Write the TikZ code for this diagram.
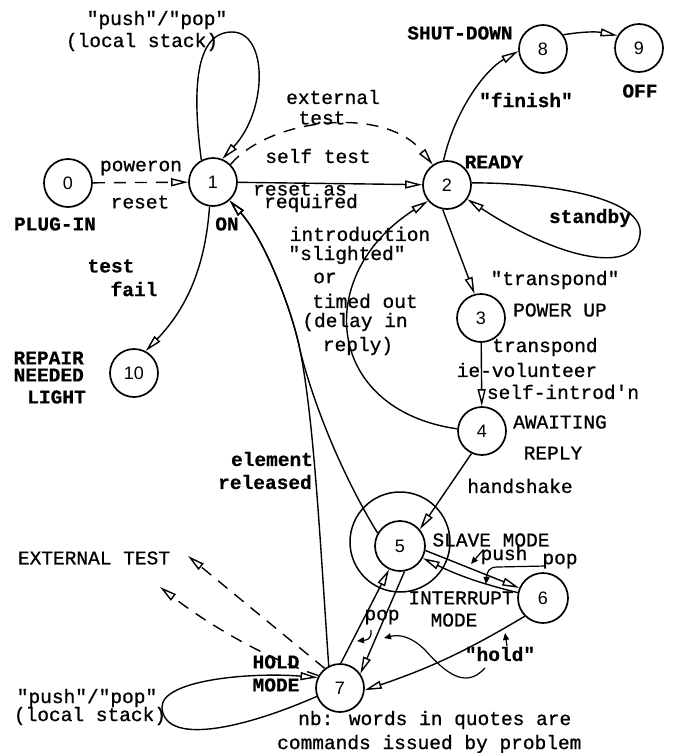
\documentclass[tikz,border=0pt]{standalone}
\usepackage{fontspec}
\setmonofont{Liberation Mono}
\newfontfamily\twfont[FakeBold=0.8]{Liberation Mono}
\newfontfamily\twbold[FakeBold=0.5]{Liberation Mono Bold}
\newfontfamily\numfont{Liberation Sans}
\usetikzlibrary{arrows.meta}
\begin{document}
\begin{tikzpicture}[x=1pt,y=-1pt,
  state/.style={circle, draw, line width=1.7pt, minimum size=48pt, inner sep=0pt, font=\numfont\fontsize{18}{18}\selectfont},
  lbl/.style={font=\twfont\fontsize{19.5}{20}\selectfont, inner sep=0pt},
  blbl/.style={font=\twbold\fontsize{19.5}{20}\selectfont, inner sep=0pt},
  conn/.style={line width=1.4pt, -{Triangle[open, length=17pt, width=8pt, line width=1.4pt]}},
  dashline/.style={dash pattern=on 12pt off 9pt},
  pointer/.style={line width=1.2pt, -{Triangle[length=7pt,width=6pt]}},
]
\useasboundingbox (0,0) rectangle (673,753);

% states
\node[state] (n0) at (68,183) {0};
\node[state] (n1) at (213,182) {1};
\node[state] (n2) at (447,185) {2};
\node[state] (n8) at (543,49) {8};
\node[state] (n9) at (639,48) {9};
\node[state] (n3) at (481,318) {3};
\node[state] (n4) at (482,431) {4};
\node[state] (n10) at (134,373) {10};
\node[circle, draw, line width=1.5pt, minimum size=100pt, inner sep=0pt] (slave) at (400,542) {};
\node[state, minimum size=50pt] (n5) at (400,546) {5};
\node[state, minimum size=50pt] (n6) at (543,598) {6};
\node[state] (n7) at (340,688) {7};
\coordinate (ext1) at (188,556);
\coordinate (ext2) at (160,587);

% connectors
\draw[conn, dashline] (n0) -- (n1);
\draw[conn] (n1.118) .. controls (192,90) and (195,32) .. (232,32) .. controls (268,32) and (268,110) .. (n1.68);
\draw[conn, dashline] (n1.45) .. controls (270,118) and (385,105) .. (n2.125);
\draw[conn] (n1) -- (n2);
\draw[conn] (n1.262) .. controls (205,270) and (185,310) .. (n10.62);
\draw[conn] (n5.150) .. controls (345,480) and (315,410) .. (300,350) .. controls (292,310) and (265,240) .. (n1.-48);
\draw[conn] (n7.117) .. controls (320,540) and (314,420) .. (300,350) .. controls (292,310) and (265,240) .. (n1.-48);
\draw[conn] (n2.98) .. controls (455,110) and (485,70) .. (n8.185);
\draw[conn] (n8.35) to[bend left=10] (n9.150);
\draw[conn] (n2.5) .. controls (560,183) and (645,200) .. (640,235) .. controls (635,275) and (560,260) .. (n2.-35);
\draw[conn] (n2.-100) -- (n3.105);
\draw[conn] (n3) -- (n4);
\draw[conn] (n4.175) .. controls (325,410) and (312,275) .. (n2.-140);
\draw[conn] (n4.-115) -- (n5.40);
\draw[conn] (n5.-10) -- (n6.157);
\draw[conn] (n6.168) to[bend left=6] (n5.-28);
\draw[conn] (n5.-80) -- (n7.35);
\draw[conn] (n7.88) -- (n5.-115);
\draw[conn] (n6.-135) to[bend left=6] (n7.-5);
\draw[conn] (n7.-160) .. controls (240,730) and (165,745) .. (162,708) .. controls (160,680) and (250,672) .. (n7.155);
\draw[conn, dashline] (n7.128) -- (ext1);
\draw[conn, dashline] (n7.150) .. controls (262,657) and (205,622) .. (ext2);

% small pointers
\draw[pointer] (483,550) -- (471,564);
\draw[pointer] (546,566) -- (497,567) .. controls (489,567) and (487,572) .. (486,584);
\draw[pointer] (371,630) .. controls (372,640) and (366,640) .. (357,641);
\draw[pointer] (507,646) -- (505,633);
\draw[pointer] (485,668) .. controls (465,690) and (445,672) .. (425,650) .. controls (412,637) and (400,634) .. (384,638);

% labels
\node[lbl] (t1) at (157,20) {"push"/"pop"};
\node[lbl] (t2) at (142,42) {(local stack)};
\node[lbl] (t3) at (141,168) {poweron};
\node[lbl] (t4) at (140,202) {reset};
\node[blbl] (t5) at (55,224) {PLUG-IN};
\node[blbl] (t6) at (111,266) {test};
\node[blbl] (t7) at (134,289) {fail};
\node[blbl, anchor=east] (t8) at (84,358) {REPAIR};
\node[blbl, anchor=east] (t9) at (84,375) {NEEDED};
\node[blbl, anchor=east] (t10) at (86,397) {LIGHT};
\node[blbl] (t11) at (227,224) {ON};
\node[lbl] (t12) at (333,97) {external};
\node[lbl] (t13) at (322,118) {test};
\node[lbl] (t14) at (318,156) {self test};
\node[lbl] (t15) at (300,189) {reset as};
\node[lbl] (t16) at (311,203) {required};
\node[lbl] (t17) at (360,234) {introduction};
\node[lbl] (t18) at (347,255) {"slighted"};
\node[lbl] (t19) at (325,278) {or};
\node[lbl] (t20) at (365,301) {timed out};
\node[lbl] (t21) at (355,322) {(delay in};
\node[lbl] (t22) at (358,346) {reply)};
\node[blbl] (t23) at (494,162) {READY};
\node[blbl] (t24) at (460,33) {SHUT-DOWN};
\node[blbl] (t25) at (640,91) {OFF};
\node[blbl] (t26) at (526,100) {"finish"};
\node[blbl] (t27) at (590,218) {standby};
\node[lbl] (t28) at (555,280) {"transpond"};
\node[lbl] (t29) at (560,310) {POWER UP};
\node[lbl] (t30) at (545,347) {transpond};
\node[lbl] (t31) at (527,370) {ie-volunteer};
\node[lbl] (t32) at (563,392) {self-introd'n};
\node[lbl] (t33) at (560,422) {AWAITING};
\node[lbl] (t34) at (553,453) {REPLY};
\node[lbl] (t35) at (520,486) {handshake};
\node[lbl] (t36) at (491,540) {SLAVE MODE};
\node[lbl] (t37) at (504,555) {push};
\node[lbl] (t38) at (560,561) {pop};
\node[lbl] (t39) at (461,598) {INTERRUPT};
\node[lbl] (t40) at (454,620) {MODE};
\node[lbl] (t41) at (382,617) {pop};
\node[blbl] (t42) at (500,654) {"hold"};
\node[blbl] (t43) at (272,459) {element};
\node[blbl] (t44) at (265,482) {released};
\node[lbl] (t45) at (94,558) {EXTERNAL TEST};
\node[blbl] (t46) at (276,662) {HOLD};
\node[blbl] (t47) at (276,685) {MODE};
\node[lbl] (t48) at (87,698) {"push"/"pop"};
\node[lbl] (t49) at (90,716) {(local stack)};
\node[lbl, anchor=west] (t50) at (298,720) {nb: words in quotes are};
\node[lbl, anchor=west] (t51) at (277,744) {commands issued by problem};
\end{tikzpicture}
\end{document}
